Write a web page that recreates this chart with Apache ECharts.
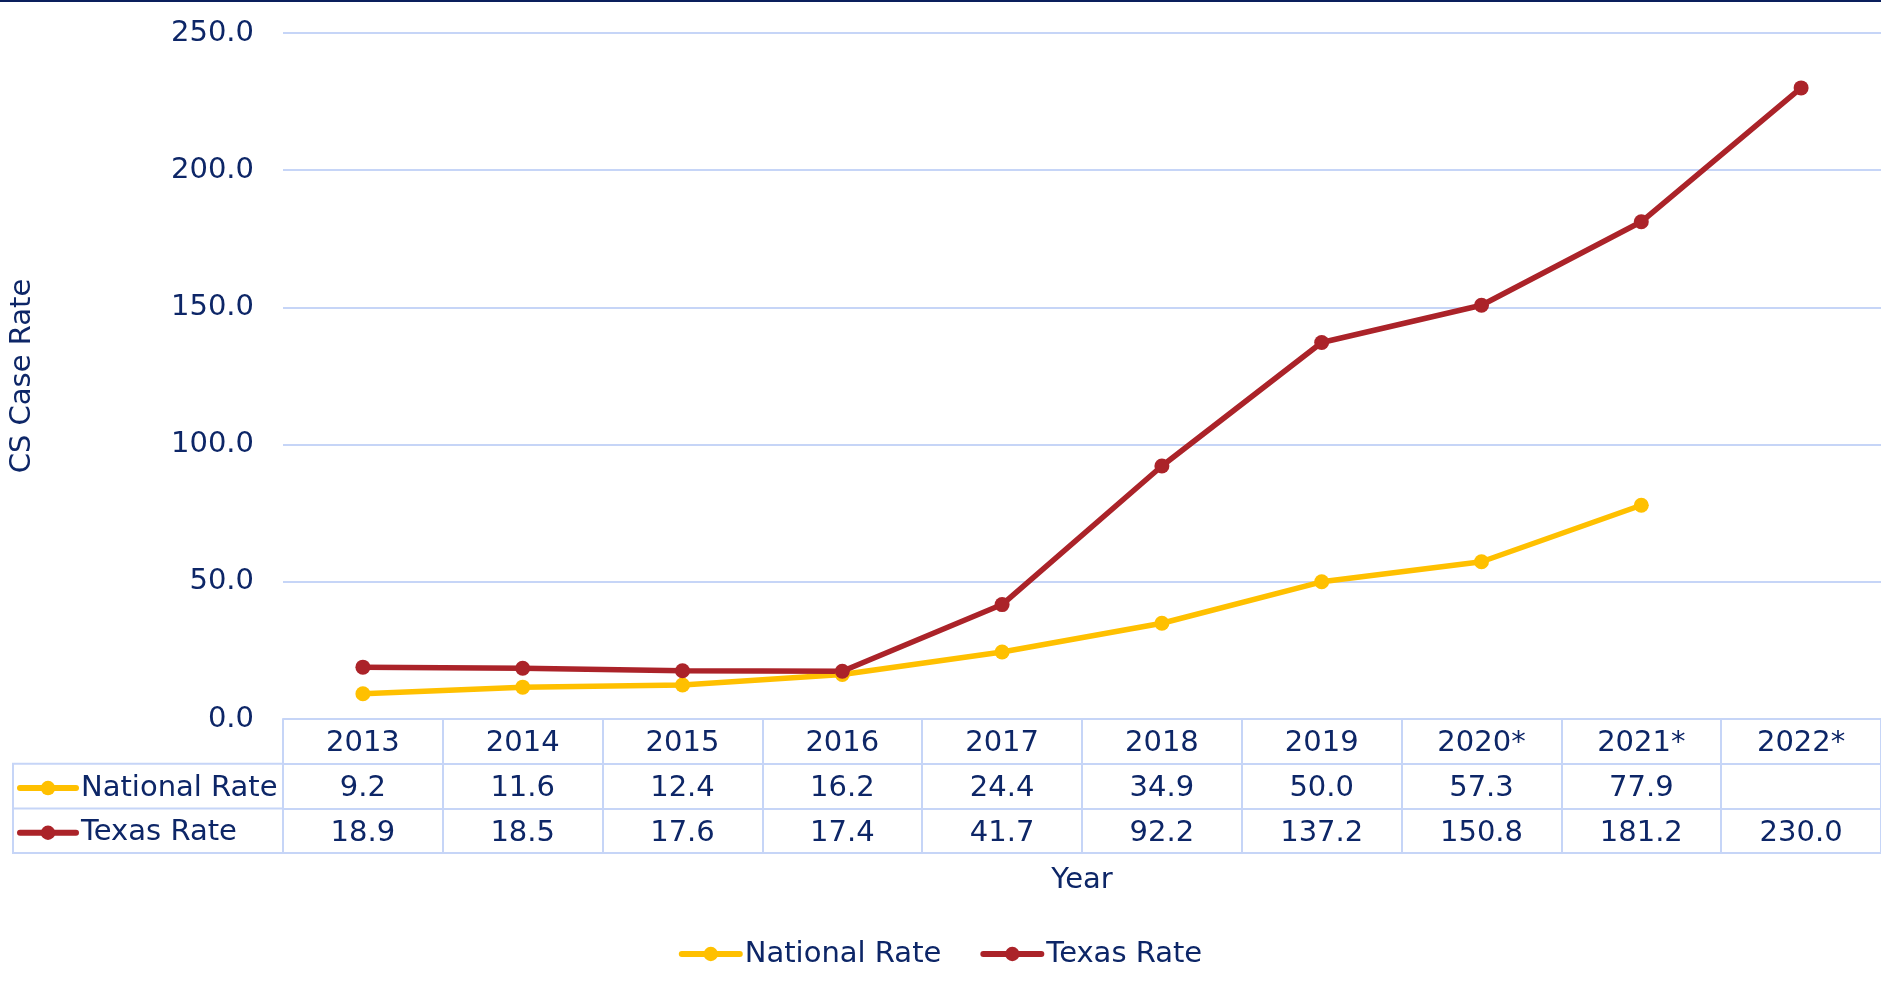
<!DOCTYPE html>
<html>
<head>
<meta charset="utf-8">
<script src="https://cdn.jsdelivr.net/npm/echarts@6/dist/echarts.min.js"></script>
<style>
  html, body { margin: 0; padding: 0; background: #fff; }
  #main { width: 1881px; height: 992px; }
</style>
</head>
<body>
<div id="main"></div>
<script>
// data
var years = ['2013', '2014', '2015', '2016', '2017', '2018', '2019', '2020*', '2021*', '2022*'];
var nationalRate = [9.2, 11.6, 12.4, 16.2, 24.4, 34.9, 50.0, 57.3, 77.9, null];
var texasRate = [18.9, 18.5, 17.6, 17.4, 41.7, 92.2, 137.2, 150.8, 181.2, 230.0];

var NAVY = '#0d2667';
var BORDER = '#c6d5f7';
var YELLOW = '#ffc000';
var RED = '#ab2329';
var FONT = 'DejaVu Sans';
var FS = 29;

// layout of the plot + data table
var gridLeft = 283, gridTop = 33, axisY = 719, rowH = 44.7;
var tableLeft = 13;

var chart = echarts.init(document.getElementById('main'));

function fmt(v) {
    return (v === null || v === undefined) ? '' : v.toFixed(1);
}

// one x axis per table row
function rowAxis(offset, formatter, showTick) {
    return {
        type: 'category',
        data: years,
        position: 'bottom',
        offset: offset,
        boundaryGap: true,
        axisLine: { show: true, lineStyle: { color: BORDER, width: 2 } },
        axisTick: { show: showTick, interval: 0, length: rowH, lineStyle: { color: BORDER, width: 2 } },
        axisLabel: {
            show: formatter !== null,
            interval: 0,
            margin: 2.5,
            lineHeight: rowH,
            color: NAVY,
            fontFamily: FONT,
            fontSize: FS,
            formatter: formatter || function() { return ''; }
        },
        splitLine: { show: false }
    };
}

var xAxes = [
    rowAxis(0, function(v) { return v; }, true),
    rowAxis(rowH, function(v, i) { return fmt(nationalRate[i]); }, true),
    rowAxis(rowH * 2, function(v, i) { return fmt(texasRate[i]); }, true),
    rowAxis(rowH * 3, null, false)
];
xAxes[3].name = 'Year';
xAxes[3].nameLocation = 'middle';
xAxes[3].nameGap = 12;
xAxes[3].nameTextStyle = { color: NAVY, fontFamily: FONT, fontSize: FS, lineHeight: 30, verticalAlign: 'top' };

var tableBottom = axisY + rowH * 3;

var legendLine = { width: 6, cap: 'round' };

var option = {
    backgroundColor: '#fff',
    animation: false,
    textStyle: { fontFamily: FONT },
    grid: { left: gridLeft, right: 0, top: gridTop, bottom: 992 - axisY, containLabel: false, outerBoundsMode: 'none' },
    legend: [{
        data: ['National Rate', 'Texas Rate'],
        left: 'center',
        top: 934,
        itemWidth: 58,
        itemHeight: 18,
        itemGap: 39,
        lineStyle: legendLine,
        textStyle: { color: NAVY, fontFamily: FONT, fontSize: FS, lineHeight: 30 }
    }, {
        // row labels of the data table
        data: ['National Rate', 'Texas Rate'],
        orient: 'vertical',
        left: 17,
        top: axisY + rowH + 2,
        padding: 0,
        itemWidth: 56,
        itemHeight: 18,
        itemGap: 0,
        lineStyle: legendLine,
        textStyle: { color: NAVY, fontFamily: FONT, fontSize: FS, lineHeight: rowH }
    }],
    xAxis: xAxes,
    yAxis: {
        type: 'value',
        min: 0,
        max: 250,
        interval: 50,
        name: 'CS Case Rate',
        nameLocation: 'middle',
        nameGap: 246,
        nameTextStyle: { color: NAVY, fontFamily: FONT, fontSize: FS },
        axisLine: { show: false },
        axisTick: { show: false },
        axisLabel: {
            color: NAVY, fontFamily: FONT, fontSize: FS, margin: 29,
            padding: [5, 0, 0, 0],
            formatter: function(v) { return v.toFixed(1); }
        },
        splitLine: { lineStyle: { color: BORDER, width: 2 } }
    },
    graphic: [
        // dark rule at the very top
        { type: 'rect', shape: { x: 0, y: 0, width: 1881, height: 2 }, style: { fill: '#0a1f5c' } },
        // borders of the row-label column
        { type: 'polyline', shape: { points: [[gridLeft, axisY + rowH], [tableLeft, axisY + rowH], [tableLeft, tableBottom], [gridLeft, tableBottom]] },
          style: { stroke: BORDER, lineWidth: 2, fill: null } },
        { type: 'line', shape: { x1: tableLeft, y1: axisY + rowH * 2, x2: gridLeft, y2: axisY + rowH * 2 },
          style: { stroke: BORDER, lineWidth: 2 } }
    ],
    series: [{
        name: 'National Rate',
        type: 'line',
        data: nationalRate,
        symbol: 'circle',
        symbolSize: 15,
        color: YELLOW,
        lineStyle: { width: 5.5, color: YELLOW, cap: 'round' },
        itemStyle: { color: YELLOW }
    }, {
        name: 'Texas Rate',
        type: 'line',
        data: texasRate,
        symbol: 'circle',
        symbolSize: 15,
        color: RED,
        lineStyle: { width: 5.5, color: RED, cap: 'round' },
        itemStyle: { color: RED }
    }]
};

chart.setOption(option);
</script>
</body>
</html>
